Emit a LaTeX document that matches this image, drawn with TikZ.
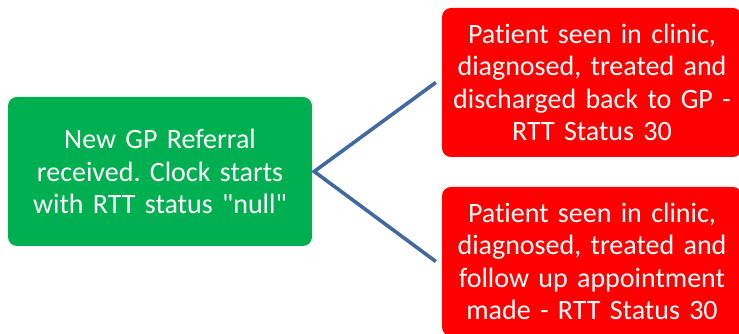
\documentclass[tikz,border=0pt]{standalone}
\usepackage{fontspec}
\setmainfont{Carlito}[Ligatures={TeXOff,CommonOff}, WordSpace=0.9]
\definecolor{boxgreen}{HTML}{00B050}
\definecolor{boxred}{HTML}{FF0000}
\definecolor{linkblue}{HTML}{41699F}
\begin{document}
\frenchspacing
\begin{tikzpicture}[x=1pt,y=1pt,
  card/.style={rectangle, rounded corners=9pt, inner sep=0pt, text=white,
    align=center, text width=296pt,
    font=\fontsize{28}{32.5}\selectfont},
  link/.style={draw=linkblue, line width=3.6pt}]
\useasboundingbox (0,0) rectangle (739,334);
\clip (0,0) rectangle (739,334);
\node[card, fill=boxgreen, minimum width=304pt, minimum height=149pt] (g) at (160,162.5)
  {New GP Referral\\received. Clock starts\\with RTT status "null"};
\node[card, fill=boxred, minimum width=300pt, minimum height=149pt] (r1) at (592,251.5)
  {Patient seen in clinic,\\diagnosed, treated and\\discharged back to GP -\\RTT Status 30};
\node[card, fill=boxred, minimum width=300pt, minimum height=149pt] (r2) at (592,72.5)
  {Patient seen in clinic,\\diagnosed, treated and\\follow up appointment\\made - RTT Status 30};
\coordinate (apex) at ([xshift=2pt]g.east);
\coordinate (e1) at ([xshift=-6pt]r1.west);
\coordinate (e2) at ([xshift=-6pt]r2.west);
\draw[link] (e1) -- (apex) -- (e2);
\end{tikzpicture}
\end{document}
